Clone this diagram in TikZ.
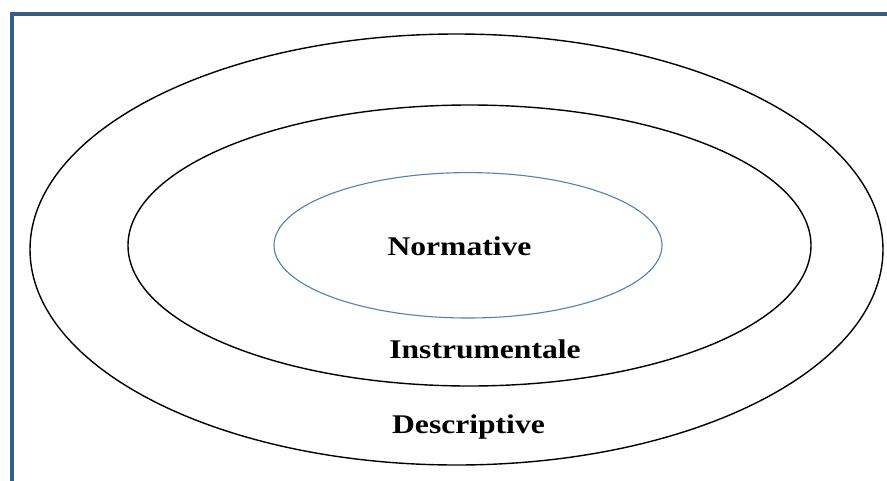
\documentclass[tikz,border=0pt]{standalone}
\usepackage{fontspec}
\setmainfont{Liberation Serif}
\definecolor{col_385D8A}{RGB}{56,93,138}
\definecolor{col_4F81BD}{RGB}{79,129,189}
\definecolor{col_000000}{RGB}{0,0,0}
\newcommand{\tikzdrawring}[5]{%
\draw[#1] (#2,#3) ellipse[x radius=#4, y radius=#5];
}
\tikzset{ringlabel/.style={anchor=base, inner sep=0pt, font=\fontsize{27}{27}\selectfont\bfseries}}

\begin{document}
\begin{tikzpicture}[x=1pt,y=-1pt]
\useasboundingbox (0,0) rectangle (887,480);
\fill[white] (0,0) rectangle (887,480);
\draw[col_385D8A, line width=3.5pt] (12,490) -- (12,14) -- (897,14);     %% frame
\tikzdrawring{col_000000, line width=1.4pt}{456.5}{249.5}{426.5}{215.5}     %% outer ring
\tikzdrawring{col_000000, line width=1.4pt}{469.5}{245.5}{341.5}{140.5}     %% middle ring
\tikzdrawring{col_4F81BD, line width=1.1pt}{468.0}{245.3}{194.0}{72.7}     %% inner ring
\node[ringlabel] (normative) at (459.5,255) {\scalebox{1.17}[1]{Normative}};
\node[ringlabel] (instrumentale) at (485.0,358) {\scalebox{1.17}[1]{Instrumentale}};
\node[ringlabel] (descriptive) at (468.5,433) {\scalebox{1.17}[1]{Descriptive}};
\end{tikzpicture}
\end{document}
